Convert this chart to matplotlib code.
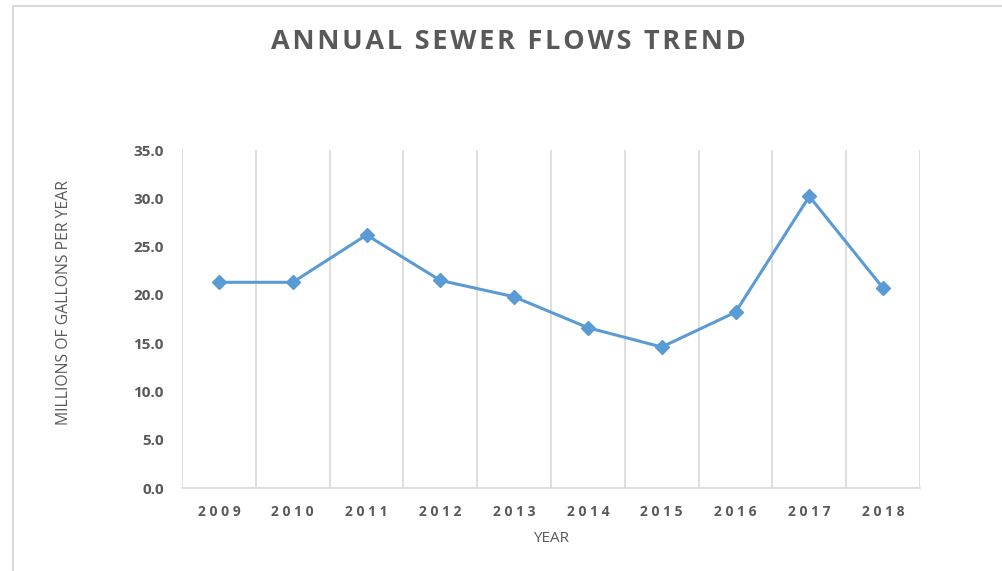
import matplotlib.pyplot as plt
from matplotlib.patches import Rectangle

# annual sewer flows, millions of gallons per year
years = ['2009', '2010', '2011', '2012', '2013', '2014', '2015', '2016', '2017', '2018']
flows = [21.3, 21.3, 26.2, 21.5, 19.8, 16.6, 14.6, 18.2, 30.2, 20.7]
y_ticks = [0, 5, 10, 15, 20, 25, 30, 35]
title = 'ANNUAL SEWER FLOWS TREND'

text_col = '#595959'
grid_col = '#d9d9d9'
line_col = '#5b9bd5'

plt.rcParams['font.family'] = ['Open Sans', 'DejaVu Sans']

fig = plt.figure(figsize=(10.02, 5.71), dpi=100)
ax = fig.add_axes([182 / 1002, 1 - 488 / 571, (920 - 182) / 1002, (488 - 150) / 571])

x = list(range(len(years)))
ax.plot(x, flows, color=line_col, linewidth=2.2, marker='D', markersize=7,
        markerfacecolor=line_col, markeredgecolor=line_col, zorder=3)

ax.set_xlim(-0.5, len(years) - 0.5)
ax.set_ylim(0, 35)
ax.set_yticks(y_ticks)
ax.set_yticklabels(['%.1f' % v for v in y_ticks], fontsize=11, fontweight='bold', color=text_col)
ax.set_xticks(x)
ax.set_xticklabels([' '.join(y) for y in years], fontsize=10, fontweight='bold', color=text_col)
ax.tick_params(axis='y', length=0, pad=13)
ax.tick_params(axis='x', length=0, pad=12)

# vertical gridlines on category boundaries
for b in range(len(years) + 1):
    ax.axvline(b - 0.5, color=grid_col, linewidth=1.2, zorder=1)

for s in ['top', 'right', 'left']:
    ax.spines[s].set_visible(False)
ax.spines['bottom'].set_color(grid_col)
ax.spines['bottom'].set_linewidth(1.2)

ax.set_ylabel('MILLIONS OF GALLONS PER YEAR', fontsize=11.3, color=text_col)
ax.yaxis.set_label_coords(-0.149, 0.55)
ax.set_xlabel('YEAR', fontsize=11, color=text_col, labelpad=9)

# letter-spaced title
fig.text(508 / 1002, 1 - 42 / 571, '\u200a'.join(title),
         ha='center', va='center', fontsize=19.5, fontweight='bold', color=text_col)

# chart frame
fig.add_artist(Rectangle((13 / 1002, -0.2), 1.2, 1 - 6 / 571 + 0.2, transform=fig.transFigure,
                         fill=False, edgecolor='#d9d9d9', linewidth=1.5))

fig.savefig('out.png', dpi=100)
